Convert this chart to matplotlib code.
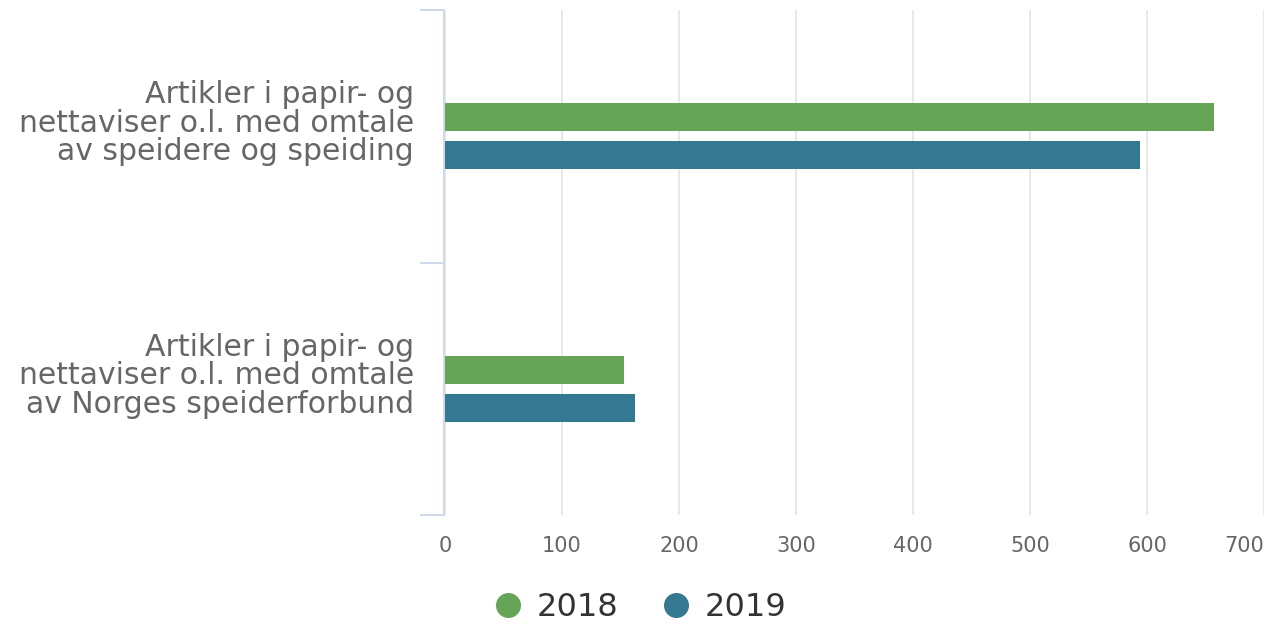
import numpy as np
import matplotlib.pyplot as plt
import matplotlib.transforms as mtransforms
from matplotlib.lines import Line2D

plt.rcParams['font.family'] = ['DejaVu Sans']

categories = ["Artikler i papir- og\nnettaviser o.l. med omtale\nav speidere og speiding",
              "Artikler i papir- og\nnettaviser o.l. med omtale\nav Norges speiderforbund"]
series = ["2018", "2019"]
values_2018 = [657, 153]
values_2019 = [594, 162]
xticks = [0, 100, 200, 300, 400, 500, 600, 700]

colors = ["#66a558", "#357891"]


def main():
    fig = plt.figure(figsize=(12.76, 6.26), dpi=100)
    ax = fig.add_axes([445 / 1276, 1 - 515 / 626, 819 / 1276, 505 / 626])

    y = np.arange(len(categories))
    h = 0.11
    off = 0.075
    ax.barh(y - off, values_2018, height=h, color=colors[0], zorder=3)
    ax.barh(y + off, values_2019, height=h, color=colors[1], zorder=3)

    ax.set_xlim(0, 700)
    ax.set_ylim(len(categories) - 0.5, -0.5)
    ax.set_xticks(xticks)
    ax.set_xticklabels([str(t) for t in xticks], fontsize=15, color="#666666")
    ax.tick_params(axis="x", length=0, pad=15)
    ax.get_xticklabels()[-1].set_horizontalalignment("right")
    for t in xticks:
        ax.axvline(t, color="#e6e6e6", lw=1.3, zorder=1)

    # category boundaries as ticks, labels placed by hand
    ax.set_yticks([-0.5, 0.5, 1.5])
    ax.set_yticklabels([])
    ax.tick_params(axis="y", length=17, color="#ccd6eb", width=1.3)
    shift = mtransforms.offset_copy(ax.transData, fig=fig, x=-31, y=13, units="dots")
    for i, lab in enumerate(categories):
        ax.text(0, i, lab, transform=shift, ha="right", va="center",
                fontsize=21.5, color="#666666", linespacing=0.98)

    for s in ["top", "right", "bottom"]:
        ax.spines[s].set_visible(False)
    ax.spines["left"].set_color("#ccd6eb")
    ax.spines["left"].set_linewidth(1.3)
    ax.spines["left"].set_position(("outward", 1))

    handles = [Line2D([], [], marker="o", ls="", ms=17, color=c) for c in colors]
    fig.legend(handles, series, loc="center", bbox_to_anchor=(636 / 1276, 1 - 608 / 626),
               ncol=2, frameon=False, fontsize=23, labelcolor="#333333",
               handletextpad=0.2, columnspacing=1.1, handlelength=1.4)

    plt.savefig("out.png", dpi=100)


if __name__ == "__main__":
    main()
